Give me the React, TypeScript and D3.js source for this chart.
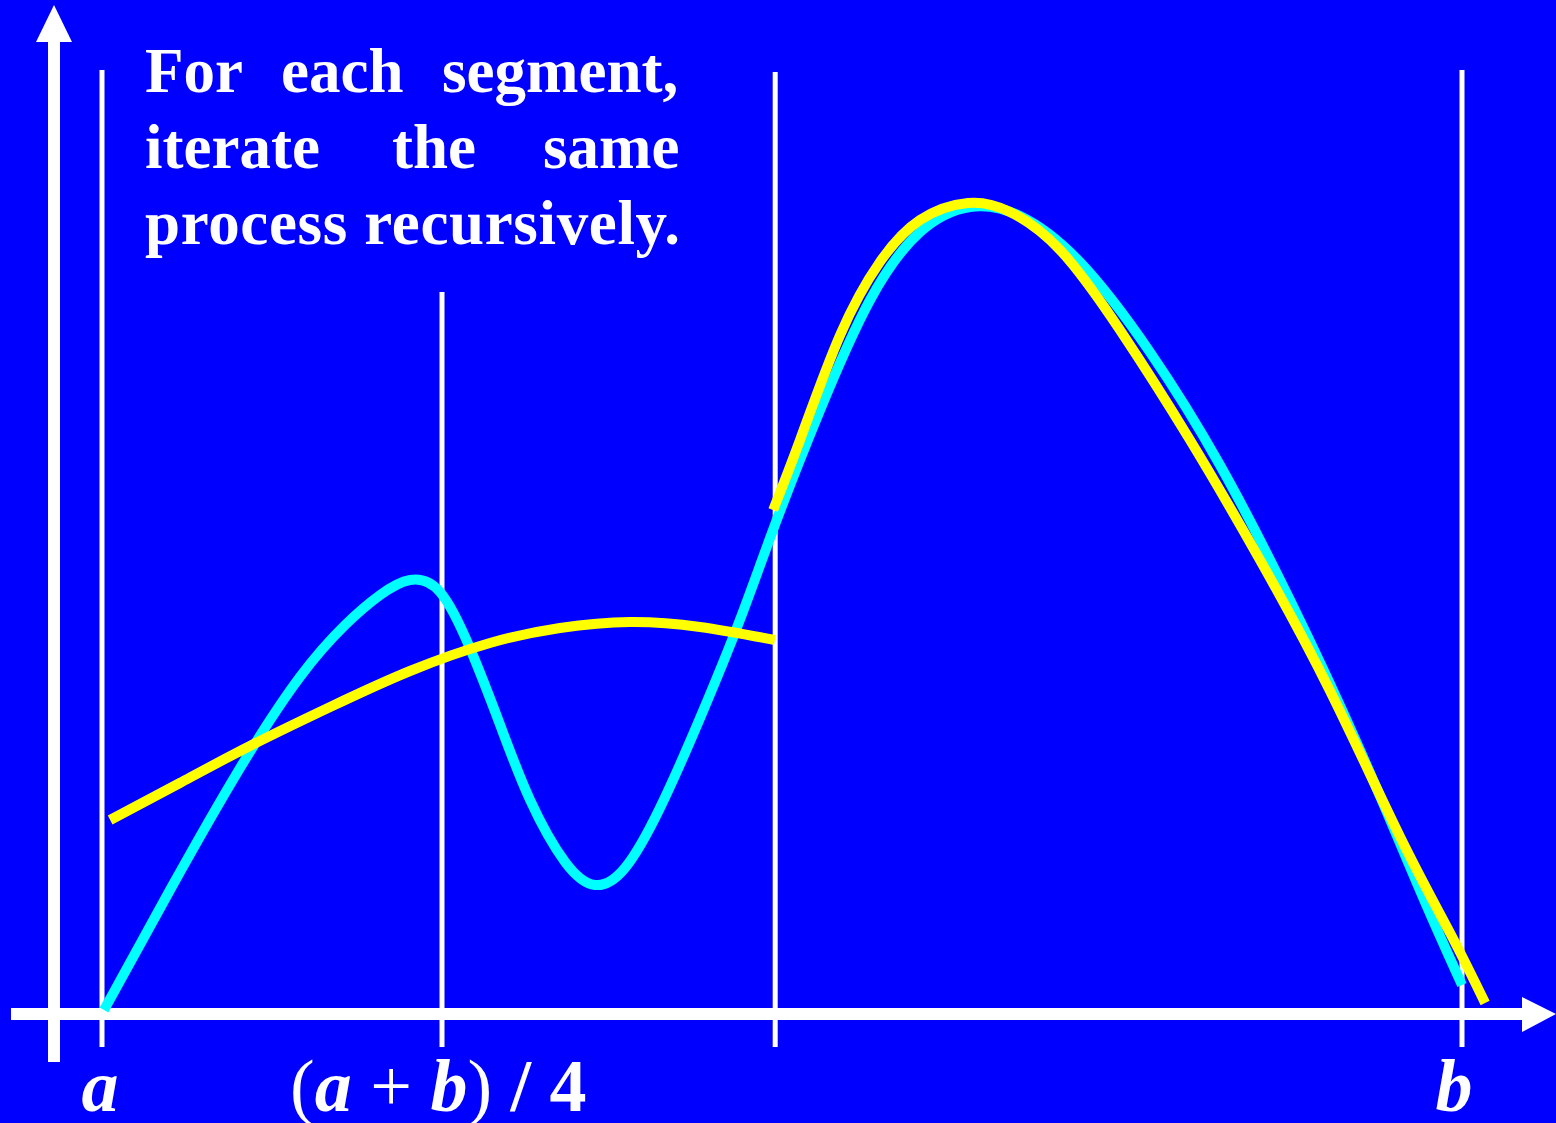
import React from "react";
import * as d3 from "d3";

// Data in chart units: x from a=0 to b=4, y from 0 (axis) upward
const cyanX = [0.006, 0.2, 0.406, 0.582, 0.715, 0.818, 0.906, 0.994, 1.082, 1.171, 1.259, 1.362, 1.45, 1.538, 1.641, 1.759, 1.876, 1.979, 2.112, 2.259, 2.406, 2.553, 2.7, 2.876, 3.082, 3.288, 3.494, 3.7, 3.876, 4.0];
const cyanY = [0.4, 12.4, 24.6, 33.7, 38.9, 41.9, 43.4, 42.2, 36.6, 28.9, 21.4, 15.2, 12.9, 14.6, 20.6, 29.6, 39.4, 48.9, 60.4, 71.4, 78.2, 80.7, 79.8, 75.2, 66.2, 54.9, 41.4, 26.4, 12.4, 2.9];

const yellow1X = [0.024, 0.229, 0.435, 0.671, 0.906, 1.141, 1.347, 1.553, 1.759, 1.979];
const yellow1Y = [19.4, 23.1, 26.8, 30.7, 34.3, 37.1, 38.6, 39.2, 38.7, 37.4];

const yellow2X = [1.974, 2.053, 2.171, 2.288, 2.406, 2.547, 2.671, 2.818, 2.994, 3.2, 3.406, 3.612, 3.818, 3.965, 4.068];
const yellow2Y = [50.4, 57.4, 67.9, 75.2, 79.4, 81.1, 80.2, 76.4, 68.4, 57.4, 45.4, 32.3, 17.7, 8.1, 1.1];

const dividerX = [0, 1, 1.98, 4];
const dividerTop = [94.4, 72.2, 94.2, 94.4];

const titleLines = [
  ["For", "each", "segment,"],
  ["iterate", "the", "same"],
  ["process recursively."],
];

const W = 1556;
const H = 1123;

export default function App() {
  const x = d3.scaleLinear().domain([0, 4]).range([102, 1462]);
  const y = d3.scaleLinear().domain([0, 100]).range([1014, 14]);

  const line = d3
    .line<[number, number]>()
    .x((d) => x(d[0]))
    .y((d) => y(d[1]))
    .curve(d3.curveNatural);

  const cyan = line(cyanX.map((v, i) => [v, cyanY[i]]));
  const y1 = line(yellow1X.map((v, i) => [v, yellow1Y[i]]));
  const y2 = line(yellow2X.map((v, i) => [v, yellow2Y[i]]));

  const titleFont = "'Liberation Serif', 'Times New Roman', serif";
  const lineStarts = [
    [145, 281, 442],
    [145, 392, 543],
    [145],
  ];
  const lineEnds = [null, null, 680];
  const baselines = [92, 168, 244];

  return (
    <div style={{ position: "absolute", left: 0, top: 0, width: W, height: H }}>
      <svg width={W} height={H} style={{ display: "block" }}>
        <rect x={0} y={0} width={W} height={H} fill="#0000FF" />

        {/* divider lines */}
        {dividerX.map((d, i) => (
          <line
            key={i}
            x1={x(d)}
            x2={x(d)}
            y1={y(dividerTop[i])}
            y2={y(-3.3)}
            stroke="#ffffff"
            strokeWidth={5}
          />
        ))}

        {/* y axis */}
        <line x1={54} x2={54} y1={40} y2={1062} stroke="#ffffff" strokeWidth={12} />
        <polygon points="54,5 36,42 72,42" fill="#ffffff" />

        {/* x axis */}
        <line x1={11} x2={1524} y1={y(0)} y2={y(0)} stroke="#ffffff" strokeWidth={12} />
        <polygon points={`1556,${y(0)} 1522,${y(0) - 17} 1522,${y(0) + 18}`} fill="#ffffff" />

        {/* curves */}
        <path d={cyan || ""} fill="none" stroke="#00FFFF" strokeWidth={10} />
        <path d={y1 || ""} fill="none" stroke="#FFFF00" strokeWidth={10} />
        <path d={y2 || ""} fill="none" stroke="#FFFF00" strokeWidth={10} />

        {/* title text */}
        {titleLines.map((words, li) =>
          words.map((w, wi) => (
            <text
              key={`${li}-${wi}`}
              x={lineStarts[li][wi]}
              y={baselines[li]}
              fill="#ffffff"
              fontFamily={titleFont}
              fontWeight="bold"
              fontSize={63}
              textLength={lineEnds[li] ? (lineEnds[li] as number) - lineStarts[li][wi] : undefined}
              lengthAdjust="spacing"
            >
              {w}
            </text>
          ))
        )}

        {/* bottom labels */}
        <text
          x={x(0) - 2}
          y={1111}
          fill="#ffffff"
          fontFamily={titleFont}
          fontWeight="bold"
          fontStyle="italic"
          fontSize={74}
          textAnchor="middle"
        >
          a
        </text>
        <text x={290} y={1111} fill="#ffffff" fontFamily={titleFont} fontSize={74}>
          <tspan>(</tspan>
          <tspan fontWeight="bold" fontStyle="italic">a</tspan>
          <tspan> + </tspan>
          <tspan fontWeight="bold" fontStyle="italic">b</tspan>
          <tspan>)</tspan>
          <tspan fontWeight="bold"> / 4</tspan>
        </text>
        <text
          x={x(4) - 8}
          y={1111}
          fill="#ffffff"
          fontFamily={titleFont}
          fontWeight="bold"
          fontStyle="italic"
          fontSize={74}
          textAnchor="middle"
        >
          b
        </text>
      </svg>
    </div>
  );
}
